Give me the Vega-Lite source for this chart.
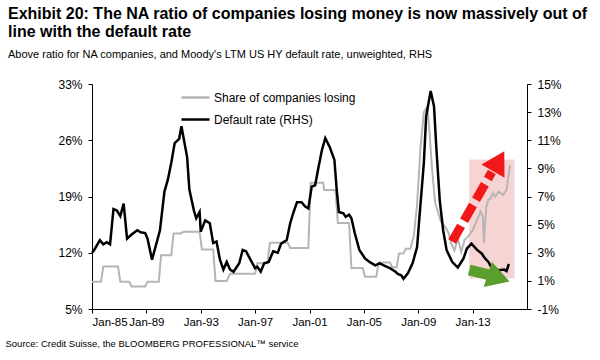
{
  "$schema": "https://vega.github.io/schema/vega-lite/v6.json",
  "width": 435,
  "height": 225,
  "autosize": {"type": "none"},
  "padding": {"left": 92, "top": 84, "right": 73, "bottom": 51},
  "background": "white",
  "title": {
    "text": ["Exhibit 20: The NA ratio of companies losing money is now massively out of", "line with the default rate"],
    "subtitle": "Above ratio for NA companies, and Moody's LTM US HY default rate, unweighted, RHS",
    "anchor": "start",
    "frame": "group",
    "dx": -84,
    "offset": 18,
    "fontSize": 16,
    "fontWeight": "bold",
    "color": "#000000",
    "lineHeight": 18,
    "subtitleFontSize": 11,
    "subtitleColor": "#000000",
    "subtitlePadding": 9
  },
  "datasets": {
    "def": [
      {"date": "1985-01-01", "v": 3.0}, {"date": "1985-03-01", "v": 3.2}, {"date": "1985-08-01", "v": 3.9},
      {"date": "1985-11-01", "v": 3.6}, {"date": "1986-02-01", "v": 3.75}, {"date": "1986-05-01", "v": 3.6},
      {"date": "1986-08-01", "v": 6.1}, {"date": "1986-11-01", "v": 6.0}, {"date": "1987-02-01", "v": 5.6},
      {"date": "1987-05-01", "v": 6.5}, {"date": "1987-08-01", "v": 4.0}, {"date": "1987-12-01", "v": 4.3},
      {"date": "1988-05-01", "v": 4.6}, {"date": "1988-08-01", "v": 4.45}, {"date": "1988-12-01", "v": 4.4},
      {"date": "1989-02-01", "v": 4.0}, {"date": "1989-06-01", "v": 2.5}, {"date": "1989-09-01", "v": 3.4},
      {"date": "1990-01-01", "v": 4.6}, {"date": "1990-05-01", "v": 7.35}, {"date": "1990-08-01", "v": 8.2},
      {"date": "1990-11-01", "v": 9.4}, {"date": "1991-02-01", "v": 10.8}, {"date": "1991-06-01", "v": 11.1},
      {"date": "1991-08-01", "v": 12.0}, {"date": "1992-01-01", "v": 9.8}, {"date": "1992-03-01", "v": 7.5},
      {"date": "1992-07-01", "v": 6.0}, {"date": "1992-09-01", "v": 5.45}, {"date": "1992-12-01", "v": 5.9},
      {"date": "1993-01-01", "v": 4.5}, {"date": "1993-05-01", "v": 5.3}, {"date": "1993-09-01", "v": 5.1},
      {"date": "1993-12-01", "v": 3.7}, {"date": "1994-03-01", "v": 3.8}, {"date": "1994-06-01", "v": 2.5},
      {"date": "1994-09-01", "v": 1.8}, {"date": "1994-12-01", "v": 2.35}, {"date": "1995-03-01", "v": 1.8},
      {"date": "1995-06-01", "v": 1.65}, {"date": "1995-11-01", "v": 2.25}, {"date": "1996-02-01", "v": 3.2},
      {"date": "1996-05-01", "v": 3.1}, {"date": "1996-09-01", "v": 2.5}, {"date": "1997-01-01", "v": 1.9},
      {"date": "1997-03-01", "v": 2.0}, {"date": "1997-06-01", "v": 1.65}, {"date": "1997-09-01", "v": 2.25},
      {"date": "1998-01-01", "v": 2.35}, {"date": "1998-05-01", "v": 3.1}, {"date": "1998-09-01", "v": 3.0},
      {"date": "1998-12-01", "v": 3.65}, {"date": "1999-05-01", "v": 3.9}, {"date": "1999-08-01", "v": 5.1},
      {"date": "1999-11-01", "v": 5.9}, {"date": "2000-02-01", "v": 6.6}, {"date": "2000-06-01", "v": 6.6},
      {"date": "2000-09-01", "v": 6.3}, {"date": "2000-12-01", "v": 6.15}, {"date": "2001-03-01", "v": 7.7},
      {"date": "2001-06-01", "v": 7.8}, {"date": "2001-09-01", "v": 9.1}, {"date": "2001-12-01", "v": 10.3},
      {"date": "2002-03-01", "v": 11.15}, {"date": "2002-07-01", "v": 10.5}, {"date": "2002-11-01", "v": 9.6},
      {"date": "2003-01-01", "v": 7.5}, {"date": "2003-03-01", "v": 5.9}, {"date": "2003-07-01", "v": 5.8},
      {"date": "2003-09-01", "v": 5.55}, {"date": "2003-12-01", "v": 5.7}, {"date": "2004-02-01", "v": 5.45},
      {"date": "2004-05-01", "v": 4.4}, {"date": "2004-09-01", "v": 3.2}, {"date": "2005-02-01", "v": 2.6},
      {"date": "2005-06-01", "v": 2.35}, {"date": "2005-11-01", "v": 2.1}, {"date": "2006-03-01", "v": 2.25},
      {"date": "2006-08-01", "v": 2.05}, {"date": "2006-12-01", "v": 1.9}, {"date": "2007-05-01", "v": 1.65},
      {"date": "2007-07-01", "v": 1.5}, {"date": "2007-10-01", "v": 1.4}, {"date": "2007-12-01", "v": 1.15},
      {"date": "2008-04-01", "v": 1.55}, {"date": "2008-08-01", "v": 2.25}, {"date": "2008-12-01", "v": 3.4},
      {"date": "2009-02-01", "v": 5.5}, {"date": "2009-06-01", "v": 9.4}, {"date": "2009-08-01", "v": 12.7},
      {"date": "2009-12-01", "v": 14.5}, {"date": "2010-03-01", "v": 13.4}, {"date": "2010-05-01", "v": 10.5},
      {"date": "2010-08-01", "v": 6.75}, {"date": "2010-11-01", "v": 4.6}, {"date": "2011-02-01", "v": 3.2},
      {"date": "2011-07-01", "v": 2.35}, {"date": "2011-12-01", "v": 1.95}, {"date": "2012-05-01", "v": 2.6},
      {"date": "2012-08-01", "v": 3.3}, {"date": "2012-12-01", "v": 3.65}, {"date": "2013-05-01", "v": 3.2},
      {"date": "2013-09-01", "v": 2.95}, {"date": "2013-12-01", "v": 2.6}, {"date": "2014-03-01", "v": 2.35},
      {"date": "2014-06-01", "v": 1.9}, {"date": "2014-09-01", "v": 1.9}, {"date": "2014-12-01", "v": 1.75},
      {"date": "2015-05-01", "v": 1.8}, {"date": "2015-07-01", "v": 1.7}, {"date": "2015-09-01", "v": 2.2}
    ],
    "share": [
      {"date": "1985-01-01", "v": 8.4}, {"date": "1985-09-01", "v": 8.4}, {"date": "1985-11-01", "v": 10.3},
      {"date": "1986-12-01", "v": 10.3}, {"date": "1987-02-01", "v": 8.4}, {"date": "1987-10-01", "v": 8.4},
      {"date": "1987-12-01", "v": 7.8}, {"date": "1988-12-01", "v": 7.8}, {"date": "1989-02-01", "v": 8.4},
      {"date": "1989-12-01", "v": 8.4}, {"date": "1990-02-01", "v": 11.7}, {"date": "1990-11-01", "v": 11.7},
      {"date": "1991-01-01", "v": 14.4}, {"date": "1991-07-01", "v": 14.4}, {"date": "1991-10-01", "v": 14.6},
      {"date": "1992-12-01", "v": 14.6}, {"date": "1993-02-01", "v": 12.4}, {"date": "1993-12-01", "v": 12.4},
      {"date": "1994-02-01", "v": 8.5}, {"date": "1994-12-01", "v": 8.5}, {"date": "1995-03-01", "v": 9.4},
      {"date": "1997-01-01", "v": 9.4}, {"date": "1997-03-01", "v": 10.7}, {"date": "1997-12-01", "v": 10.7},
      {"date": "1998-02-01", "v": 13.25}, {"date": "1999-06-01", "v": 13.25}, {"date": "1999-08-01", "v": 12.6},
      {"date": "2000-12-01", "v": 12.6}, {"date": "2001-02-01", "v": 20.7}, {"date": "2002-01-01", "v": 20.7},
      {"date": "2002-02-01", "v": 19.8}, {"date": "2002-12-01", "v": 19.8}, {"date": "2003-02-01", "v": 15.7},
      {"date": "2003-12-01", "v": 15.7}, {"date": "2004-02-01", "v": 10.1}, {"date": "2004-12-01", "v": 10.1},
      {"date": "2005-02-01", "v": 9.0}, {"date": "2005-12-01", "v": 9.0}, {"date": "2006-02-01", "v": 10.8},
      {"date": "2006-12-01", "v": 10.8}, {"date": "2007-02-01", "v": 10.2}, {"date": "2007-06-01", "v": 10.2},
      {"date": "2007-08-01", "v": 11.9}, {"date": "2007-12-01", "v": 11.9}, {"date": "2008-02-01", "v": 12.5},
      {"date": "2008-06-01", "v": 12.5}, {"date": "2008-09-01", "v": 14.0}, {"date": "2008-12-01", "v": 18.0},
      {"date": "2009-03-01", "v": 25.0}, {"date": "2009-06-01", "v": 29.5}, {"date": "2009-09-01", "v": 30.2},
      {"date": "2009-11-01", "v": 27.0}, {"date": "2010-01-01", "v": 22.7}, {"date": "2010-04-01", "v": 18.2},
      {"date": "2010-09-01", "v": 15.9}, {"date": "2011-01-01", "v": 15.2}, {"date": "2011-04-01", "v": 14.4},
      {"date": "2011-06-01", "v": 13.2}, {"date": "2011-09-01", "v": 12.3}, {"date": "2011-12-01", "v": 13.8},
      {"date": "2012-03-01", "v": 12.1}, {"date": "2012-06-01", "v": 13.6}, {"date": "2012-09-01", "v": 14.0},
      {"date": "2013-01-01", "v": 14.8}, {"date": "2013-05-01", "v": 16.1}, {"date": "2013-08-01", "v": 17.1},
      {"date": "2013-10-01", "v": 16.5}, {"date": "2013-11-01", "v": 13.2}, {"date": "2014-01-01", "v": 17.7},
      {"date": "2014-03-01", "v": 18.6}, {"date": "2014-05-01", "v": 18.8}, {"date": "2014-07-01", "v": 19.4},
      {"date": "2014-09-01", "v": 19.0}, {"date": "2014-12-01", "v": 19.6}, {"date": "2015-04-01", "v": 19.2},
      {"date": "2015-07-01", "v": 19.8}, {"date": "2015-10-01", "v": 22.9}
    ],
    "box": [{"start": "2012-10-01", "end": "2016-02-01", "low": 8.8, "high": 23.6}],
    "redShaft": [{"start": "2011-07-01", "end": "2014-06-01", "from": 13.4, "to": 22.05}],
    "redHead": [{"date": "2014-12-01", "v": 23.4}],
    "greenShaft": [{"start": "2012-10-01", "end": "2014-04-01", "from": 9.85, "to": 9.23}],
    "greenHead": [{"date": "2014-12-01", "v": 8.86}]
  },
  "resolve": {"scale": {"y": "independent"}},
  "layer": [
    {
      "data": {"name": "box"},
      "mark": {"type": "rect", "color": "#f6cfcf", "opacity": 0.9},
      "encoding": {
        "x": {"field": "start", "type": "temporal"},
        "x2": {"field": "end"},
        "y": {"field": "low", "type": "quantitative", "scale": {"domain": [5, 33]}, "axis": null},
        "y2": {"field": "high"}
      }
    },
    {
      "data": {"name": "share"},
      "mark": {"type": "line", "strokeWidth": 2},
      "encoding": {
        "x": {
          "field": "date", "type": "temporal",
          "scale": {"domain": [{"year": 1985, "month": 1, "date": 1}, {"year": 2017, "month": 1, "date": 1}]},
          "axis": {
            "values": [
              {"year": 1985, "month": 1, "date": 1}, {"year": 1989, "month": 1, "date": 1},
              {"year": 1993, "month": 1, "date": 1}, {"year": 1997, "month": 1, "date": 1},
              {"year": 2001, "month": 1, "date": 1}, {"year": 2005, "month": 1, "date": 1},
              {"year": 2009, "month": 1, "date": 1}, {"year": 2013, "month": 1, "date": 1}
            ],
            "format": "%b-%y",
            "labelOverlap": false,
            "labelFontSize": 11.5,
            "labelPadding": 3,
            "title": "Source: Credit Suisse, the BLOOMBERG PROFESSIONAL™ service",
            "titleX": -87,
            "titleY": 37,
            "titleAlign": "left",
            "titleAnchor": "start",
            "titleBaseline": "alphabetic",
            "titleFontSize": 9.5,
            "titleFontWeight": "normal",
            "titleColor": "#000000",
            "titleFont": "Liberation Sans"
          }
        },
        "y": {
          "field": "v", "type": "quantitative",
          "scale": {"domain": [5, 33]},
          "axis": {"values": [5, 12, 19, 26, 33], "labelExpr": "datum.value + '%'", "title": null, "labelPadding": 6}
        },
        "color": {
          "datum": "Share of companies losing",
          "type": "nominal",
          "scale": {"domain": ["Share of companies losing", "Default rate (RHS)"], "range": ["#b5b5b5", "#000000"]},
          "legend": {
            "orient": "none", "legendX": 88, "legendY": -2, "title": null,
            "symbolType": "stroke", "symbolSize": 784, "symbolStrokeWidth": 2.5,
            "labelFontSize": 12, "labelOffset": 3, "rowPadding": 0, "padding": 0,
            "labelColor": "#000000", "labelFont": "Liberation Sans"
          }
        }
      }
    },
    {
      "data": {"name": "def"},
      "mark": {"type": "line", "strokeWidth": 2.5},
      "encoding": {
        "x": {"field": "date", "type": "temporal"},
        "y": {
          "field": "v", "type": "quantitative",
          "scale": {"domain": [-1, 15]},
          "axis": {"orient": "right", "values": [-1, 1, 3, 5, 7, 9, 11, 13, 15], "labelExpr": "datum.value + '%'", "title": null, "labelPadding": 6}
        },
        "color": {"datum": "Default rate (RHS)", "type": "nominal"}
      }
    },
    {
      "data": {"name": "redShaft"},
      "mark": {"type": "rule", "color": "#f01818", "strokeWidth": 9, "strokeDash": [18, 6]},
      "encoding": {
        "x": {"field": "start", "type": "temporal"},
        "x2": {"field": "end"},
        "y": {"field": "from", "type": "quantitative", "scale": {"domain": [5, 33]}, "axis": null},
        "y2": {"field": "to"}
      }
    },
    {
      "data": {"name": "redHead"},
      "mark": {"type": "point", "shape": "triangle-up", "filled": true, "color": "#f01818", "opacity": 1, "size": 700, "angle": 29.5},
      "encoding": {
        "x": {"field": "date", "type": "temporal"},
        "y": {"field": "v", "type": "quantitative", "scale": {"domain": [5, 33]}, "axis": null}
      }
    },
    {
      "data": {"name": "greenShaft"},
      "mark": {"type": "rule", "color": "#5a9e2c", "strokeWidth": 11},
      "encoding": {
        "x": {"field": "start", "type": "temporal"},
        "x2": {"field": "end"},
        "y": {"field": "from", "type": "quantitative", "scale": {"domain": [5, 33]}, "axis": null},
        "y2": {"field": "to"}
      }
    },
    {
      "data": {"name": "greenHead"},
      "mark": {"type": "point", "shape": "triangle-up", "filled": true, "color": "#5a9e2c", "opacity": 1, "size": 700, "angle": 108},
      "encoding": {
        "x": {"field": "date", "type": "temporal"},
        "y": {"field": "v", "type": "quantitative", "scale": {"domain": [5, 33]}, "axis": null}
      }
    }
  ],
  "config": {
    "font": "Liberation Sans",
    "view": {"stroke": null},
    "axis": {
      "grid": false, "domainColor": "#000000", "tickColor": "#000000", "labelColor": "#000000",
      "labelFontSize": 12, "tickSize": 4, "domainWidth": 1, "tickWidth": 1, "labelFont": "Liberation Sans"
    }
  }
}
